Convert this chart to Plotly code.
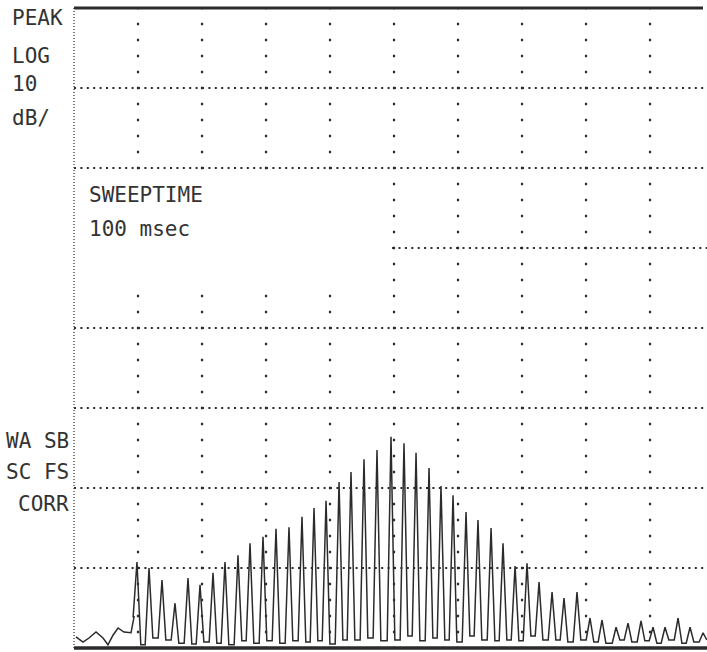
import plotly.graph_objects as go

# ---- data (x in graticule divisions, y in dB re. top line) ----
noise_freq = [0.031, 0.141, 0.234, 0.344, 0.453, 0.531, 0.609, 0.688, 0.781, 0.891, 0.938]
noise_level = [-78.6, -79.25, -78.75, -78.0, -78.75, -79.6, -78.4, -77.5, -78.0, -78.1, -76.1]

peak_freq = [0.984, 1.172, 1.375, 1.578, 1.781, 1.969, 2.172, 2.359, 2.562, 2.750,
             2.953, 3.156, 3.359, 3.562, 3.750, 3.938, 4.141, 4.328, 4.531, 4.734,
             4.953, 5.156, 5.344, 5.547, 5.734, 5.922, 6.125, 6.312, 6.516, 6.703,
             6.891, 7.078, 7.266, 7.469, 7.656, 7.859, 8.062, 8.250, 8.469, 8.656,
             8.859, 9.047, 9.234, 9.438, 9.625, 9.828]
peak_level = [-69.25, -70.0, -71.5, -74.4, -71.25, -72.1, -70.6, -69.25, -68.4, -66.9,
              -66.1, -65.1, -64.9, -63.6, -62.5, -61.6, -59.25, -58.0, -56.4, -55.25,
              -53.6, -54.4, -55.6, -57.5, -59.75, -60.9, -63.0, -64.0, -65.0, -66.9,
              -69.75, -69.4, -71.75, -73.0, -73.75, -73.0, -76.25, -76.5, -77.4, -76.9,
              -76.6, -77.4, -77.4, -76.25, -77.4, -78.1]

# trace floor between neighbouring lines (one value after each line)
valley_level = [-79.6, -78.75, -79.0, -79.4, -79.5, -79.25, -79.4, -79.6, -79.1, -79.4,
                -79.1, -79.4, -79.1, -79.25, -79.1, -79.5, -79.0, -79.0, -78.75, -79.1,
                -79.0, -78.5, -79.1, -78.75, -79.0, -79.25, -78.5, -79.0, -79.1, -79.0,
                -79.1, -78.5, -79.0, -79.0, -79.25, -79.0, -79.25, -79.4, -79.0, -79.25,
                -79.1, -79.4, -79.0, -79.4, -79.25, -79.0]

x_span = 9.89          # visible graticule divisions
line_half_width = 0.06  # half width of each spectral line's foot (divisions)
grid_x = [1, 2, 3, 4, 5, 6, 7, 8, 9]
grid_y_full = [-10, -20, -40, -50, -60, -70]

left_labels = [("PEAK", 17.5), ("LOG", 56), ("10", 84.5), ("dB/", 118)]
box_labels = [("SWEEPTIME", 195), ("100 msec", 229)]
right_labels = [("WA SB", 441), ("SC FS", 472), ("CORR", 504)]

# ---- build trace vertices (noise, then each line as a narrow spike) ----
tx = list(noise_freq)
ty = list(noise_level)
prev_floor = noise_level[-1]
for pf, pl, vl in zip(peak_freq, peak_level, valley_level):
    tx += [pf - line_half_width, pf, pf + line_half_width]
    ty += [prev_floor, pl, vl]
    prev_floor = vl
tx.append(x_span)
ty.append(valley_level[-1])

INK = "#2b2b2b"
fig = go.Figure()
fig.add_trace(go.Scatter(x=tx, y=ty, mode="lines",
                         line=dict(color=INK, width=1.5), hoverinfo="skip",
                         showlegend=False))

shapes = []
hdash = "2px,4.4px"
vdash = "2.4px,13.6px"
for g in grid_y_full:
    shapes.append(dict(type="line", xref="x", yref="y", x0=0, x1=x_span, y0=g, y1=g,
                       line=dict(color=INK, width=2, dash=hdash)))
# partial line at -30 dB (text box covers the left part)
shapes.append(dict(type="line", xref="x", yref="y", x0=4.97, x1=x_span, y0=-30, y1=-30,
                   line=dict(color=INK, width=2, dash=hdash)))
for gx in grid_x:
    if gx <= 4:
        segs = [(0.15, -20.5), (-35.85, -80)]
    else:
        segs = [(0.15, -80)]
    for a, b in segs:
        shapes.append(dict(type="line", xref="x", yref="y", x0=gx, x1=gx, y0=a, y1=b,
                           line=dict(color=INK, width=2.2, dash=vdash)))
# left border (fine dotted), top and bottom borders (solid, heavy)
shapes.append(dict(type="line", xref="paper", yref="paper", x0=0, x1=0, y0=0, y1=1,
                   line=dict(color="#555", width=1.5, dash="1px,2px")))
shapes.append(dict(type="line", xref="paper", yref="paper", x0=0, x1=0.9937, y0=1, y1=1,
                   line=dict(color=INK, width=3)))
shapes.append(dict(type="line", xref="paper", yref="paper", x0=0, x1=1, y0=0, y1=0,
                   line=dict(color=INK, width=3.5)))


def px_x(px):
    return (px - 74) / 633.0


def px_y(py):
    return 1 - (py - 8) / 640.0


font = dict(family="DejaVu Sans Mono", size=21, color="#333")
ann = []
for txt, cy in left_labels:
    ann.append(dict(text=txt, x=px_x(10), y=px_y(cy), xref="paper", yref="paper",
                    xanchor="left", yanchor="middle", showarrow=False, font=font))
for txt, cy in box_labels:
    ann.append(dict(text=txt, x=px_x(87), y=px_y(cy), xref="paper", yref="paper",
                    xanchor="left", yanchor="middle", showarrow=False, font=font))
for txt, cy in right_labels:
    ann.append(dict(text=txt, x=px_x(71), y=px_y(cy), xref="paper", yref="paper",
                    xanchor="right", yanchor="middle", showarrow=False, font=font))

fig.update_layout(
    width=707, height=652,
    margin=dict(l=74, r=0, t=8, b=4),
    paper_bgcolor="white", plot_bgcolor="white",
    xaxis=dict(range=[0, x_span], visible=False, fixedrange=True),
    yaxis=dict(range=[-80, 0], visible=False, fixedrange=True),
    shapes=shapes, annotations=ann, showlegend=False,
)
fig.write_html("out.html")
